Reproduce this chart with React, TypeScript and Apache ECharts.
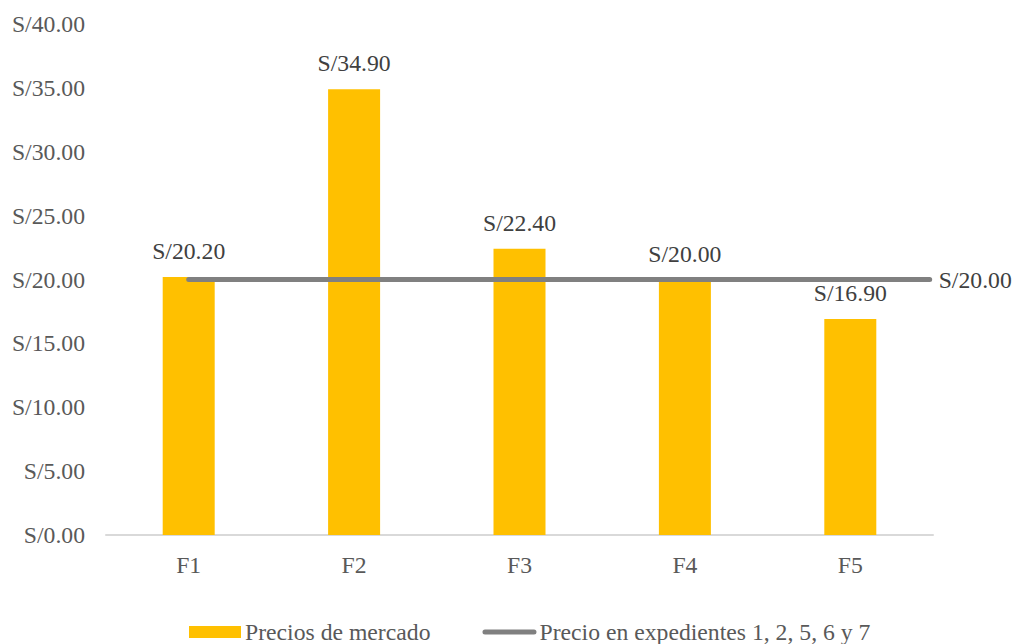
import React, { useEffect, useRef } from "react";
import * as echarts from "echarts";

const categories = ["F1", "F2", "F3", "F4", "F5"];
const marketPrices = [20.2, 34.9, 22.4, 20.0, 16.9];
const refLineX = [0.5, 1.5, 2.5, 3.5, 4.5, 4.98];
const refLineValues = [20, 20, 20, 20, 20, 20];
const seriesNames = ["Precios de mercado", "Precio en expedientes 1, 2, 5, 6 y 7"];

const FONT = "'Liberation Serif', 'Times New Roman', serif";
const FS = 23.7;
const fmt = (v: number) => "S/" + v.toFixed(2);

export default function App() {
  const ref = useRef<HTMLDivElement>(null);
  useEffect(() => {
    if (!ref.current) return;
    const chart = echarts.init(ref.current, undefined, { renderer: "svg" });
    const lineData = refLineX.map((x, i) => [x, refLineValues[i]]);
    chart.setOption({
      animation: false,
      backgroundColor: "#ffffff",
      grid: { left: 106, right: 82, top: 24, bottom: 109 },
      legend: {
        left: 189,
        top: 620,
        padding: 0,
        itemWidth: 54,
        itemHeight: 12,
        itemGap: 52,
        textStyle: { fontFamily: FONT, fontSize: FS, color: "#595959", padding: [0, 0, 0, -2] },
        data: [
          { name: seriesNames[0], icon: "path://M0,0h52v12h-52z" },
          { name: seriesNames[1], icon: "path://M2.5,0h49a2.5,2.5 0 0 1 0,5h-49a2.5,2.5 0 0 1 0,-5z" },
        ],
      },
      xAxis: [
        {
          type: "category",
          data: categories,
          axisLine: { lineStyle: { color: "#D9D9D9", width: 2 } },
          axisTick: { show: false },
          axisLabel: { fontFamily: FONT, fontSize: FS, color: "#595959", margin: 18 },
        },
        {
          type: "value",
          min: 0,
          max: 5,
          show: false,
        },
      ],
      yAxis: {
        type: "value",
        min: 0,
        max: 40,
        interval: 5,
        axisLine: { show: false },
        axisTick: { show: false },
        splitLine: { show: false },
        axisLabel: {
          fontFamily: FONT,
          fontSize: FS,
          color: "#595959",
          margin: 21,
          formatter: (v: number) => fmt(v),
        },
      },
      series: [
        {
          name: seriesNames[0],
          type: "bar",
          data: marketPrices,
          barWidth: 52,
          itemStyle: { color: "#FFC000" },
          label: {
            show: true,
            position: "top",
            distance: 14,
            formatter: (p: any) => fmt(p.value),
            fontFamily: FONT,
            fontSize: FS,
            color: "#404040",
          },
          z: 2,
        },
        {
          name: seriesNames[1],
          type: "line",
          xAxisIndex: 1,
          data: lineData,
          symbol: "none",
          lineStyle: { color: "#808080", width: 5, cap: "round" },
          itemStyle: { color: "#808080" },
          endLabel: {
            show: true,
            distance: 9,
            formatter: (p: any) => fmt(p.value[1]),
            fontFamily: FONT,
            fontSize: FS,
            color: "#404040",
          },
          z: 3,
        },
      ],
    });
    return () => chart.dispose();
  }, []);
  return (
    <div
      ref={ref}
      style={{ position: "fixed", left: 0, top: 0, width: 1015, height: 644 }}
    />
  );
}
